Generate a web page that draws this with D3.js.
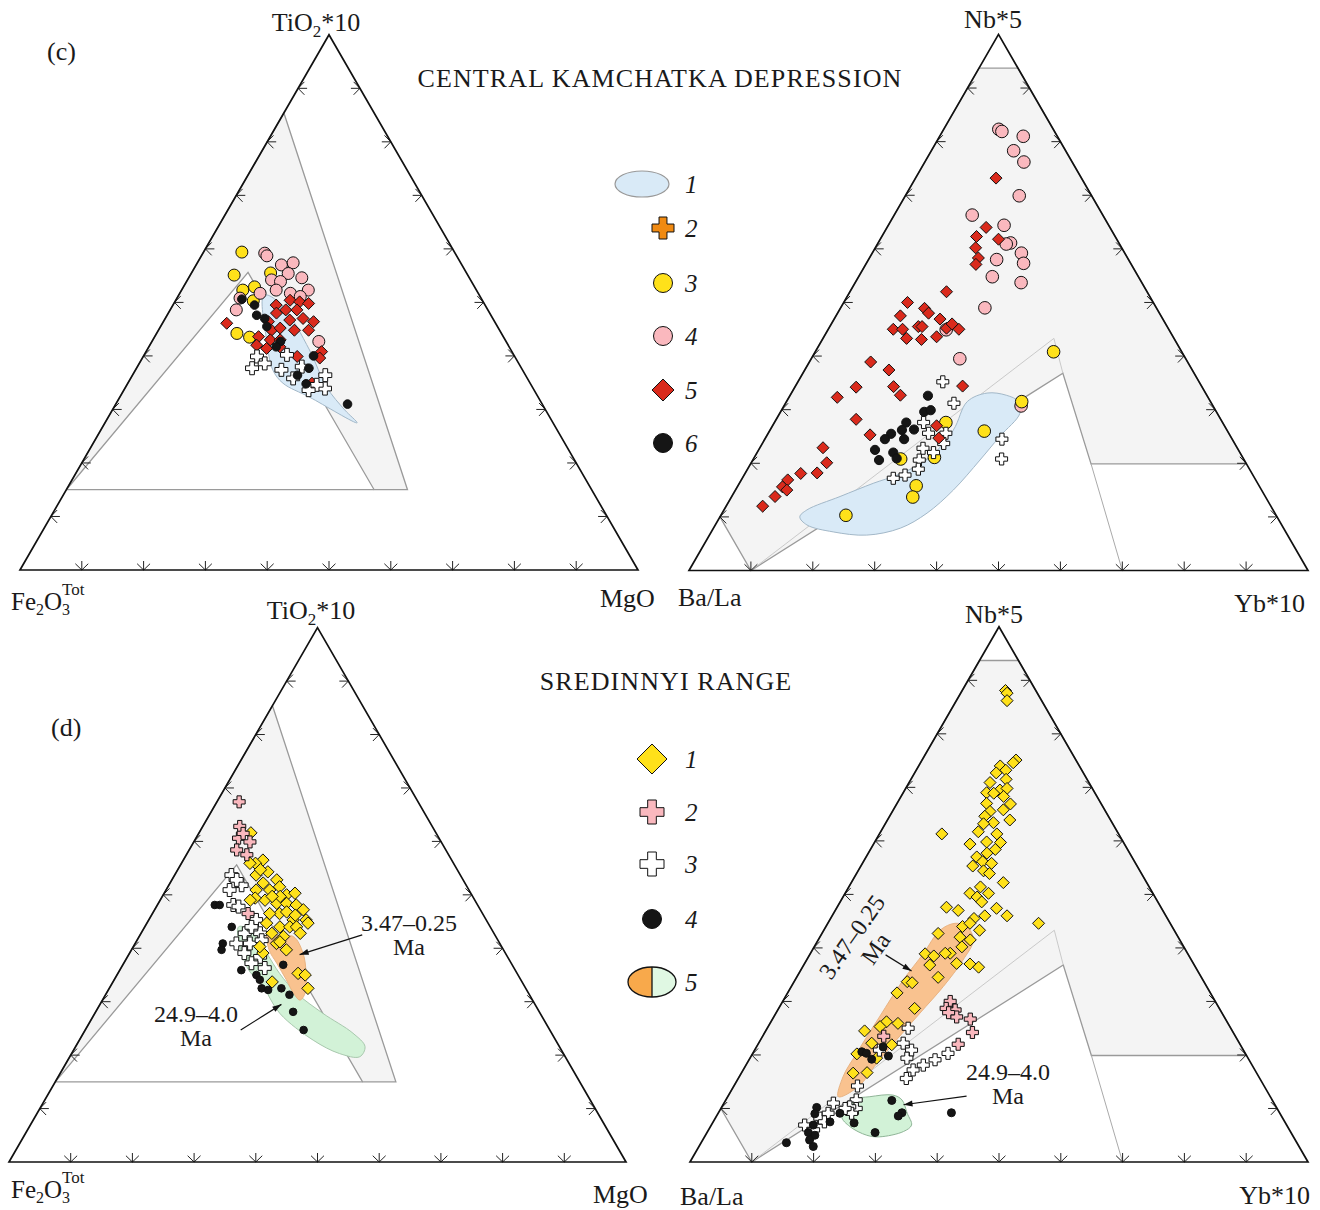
<!DOCTYPE html>
<meta charset="utf-8">
<html>
<head>
<title>Ternary diagrams: Central Kamchatka Depression / Sredinnyi Range</title>
<style>
  body { margin: 0; background: #fff; }
  text { font-family: "Liberation Serif", "Times New Roman", serif; fill: #1a1a1a; }
  .edge { fill: none; stroke: #111; stroke-width: 1.7px; stroke-linejoin: miter; }
  .tick { fill: none; stroke: #222; stroke-width: 1px; }
  .field { fill: #f4f4f4; stroke: #9a9a9a; stroke-width: 1.3px; }
  .mk { stroke: #111; stroke-width: 1px; }
  .lab { font-size: 26px; }
  .leg { font-size: 25px; font-style: italic; }
  .ann { font-size: 24px; }
</style>
<script src="https://cdn.jsdelivr.net/npm/d3@7"></script>
</head>
<body>
<script>

// ---- data: every point is [top %, right %], left = 100 - top - right ----

// background fields (same for both rows)
var fieldFMT = [[15, 0], [85.4, 0], [15, 55.2], [15, 49.8], [55.6, 9.1]];
var fieldFMTbase = [[15, 0], [15, 49.8]];
var fieldBNY = [[93.7, 0], [93.7, 6.3], [19.9, 80.1], [19.9, 55], [36.8, 42], [0, 10], [10, 0]];
var fieldBNYline = [[19.9, 55], [0, 70]];
var fieldBNYthin = [[0, 10], [43.3, 37.3], [36.8, 42]];

// (c) TiO2*10 - Fe2O3 - MgO, Central Kamchatka Depression
var c_field1 = [[51.0,13.8],[43.0,18.4],[37.4,22.2],[34.9,25.1],[32.3,30.7],[27.5,40.8],[29.9,37.6],[34.2,32.5],[41.1,26.3],[49.2,18.0],[51.4,14.2]];
var c_s3 = [[59.4,6.2],[55.1,7.1],[52.3,9.9],[52.9,11.5],[50.3,12.6],[55.5,12.8],[44.2,13.0],[43.5,15.4]];
var c_s4 = [[59.2,10.0],[58.7,10.6],[57.0,13.8],[57.4,15.5],[55.4,15.7],[54.2,13.6],[53.9,15.2],[54.6,18.3],[52.3,20.5],[51.7,17.9],[51.7,13.0],[50.8,10.2],[48.6,10.7],[42.7,27.0],[52.3,15.3],[51.1,19.8]];
var c_s5 = [[46.1,10.4],[49.5,16.7],[50.4,18.5],[50.1,20.2],[49.8,21.8],[48.6,18.7],[48.6,20.5],[48.0,17.5],[46.7,20.3],[47.0,22.3],[46.4,24.3],[46.4,17.0],[44.8,18.3],[45.2,19.5],[44.8,22.0],[44.8,24.3],[43.6,16.8],[43.0,19.0],[42.0,17.3],[41.4,19.2],[41.7,21.2],[39.9,24.9],[40.8,28.4],[39.6,28.7],[34.9,29.8],[43.0,20.6]];
var c_s6 = [[50.6,10.6],[49.5,13.2],[47.6,14.5],[47.0,16.1],[42.7,20.8],[41.7,20.6],[40.0,27.5],[37.7,27.9],[36.4,26.7],[34.8,28.9],[31.0,37.5],[45.5,17.2]];
var c_cross = [[39.9,18.4],[37.7,18.7],[38.6,20.3],[37.4,23.6],[40.2,23.1],[35.8,26.3],[36.4,31.2],[33.9,32.4],[34.6,30.7],[33.6,29.9],[38.0,26.6]];

// (c, right) Nb*5 - Ba/La - Yb*10
var e_field1 = [[10.0,12.9],[11.3,13.4],[13.8,17.5],[16.3,21.7],[17.8,24.7],[20.6,28.1],[26.2,29.6],[31.5,29.2],[33.1,31.6],[32.7,34.9],[31.5,37.5],[29.3,38.8],[25.0,37.7],[20.6,36.7],[15.0,35.2],[10.7,33.1],[7.9,30.2],[6.6,25.4],[7.2,19.7],[8.5,14.8]];
var e_s3 = [[40.8,38.5],[31.5,38.0],[27.6,27.7],[26.0,34.7],[20.8,23.8],[21.1,29.1],[15.8,28.8],[13.7,29.3],[10.3,20.2]];
var e_s4 = [[82.3,8.9],[81.9,9.6],[81.0,13.5],[78.3,13.3],[76.2,16.0],[69.9,18.4],[66.3,12.6],[64.4,18.7],[61.1,21.4],[60.9,20.8],[59.2,24.1],[57.3,25.4],[58.0,20.7],[54.8,21.6],[53.7,26.8],[49.0,23.3],[44.9,19.1],[39.5,24.0],[30.7,38.3]];
var e_s5 = [[73.2,13.0],[64.0,16.0],[62.3,15.3],[61.8,19.1],[60.2,16.2],[58.3,17.6],[57.1,17.8],[52.0,15.6],[50.0,10.3],[48.9,13.6],[48.0,14.7],[47.5,10.4],[46.9,17.1],[45.0,10.5],[45.0,12.0],[45.5,14.3],[45.5,14.9],[43.3,13.5],[43.1,16.0],[43.6,18.2],[45.2,19.0],[46.0,19.5],[45.0,21.1],[38.9,9.9],[37.4,13.6],[34.2,9.9],[32.3,7.8],[34.3,15.9],[32.7,17.8],[34.4,27.0],[28.2,12.9],[25.3,16.6],[27.0,26.5],[24.7,28.0],[22.9,10.2],[20.1,12.2],[18.1,9.0],[18.2,11.6],[16.9,7.5],[15.6,7.3],[15.0,8.3],[13.8,7.0],[12.0,5.9]];
var e_s6 = [[32.6,22.3],[29.6,23.2],[29.9,24.1],[27.6,21.3],[26.2,21.3],[26.3,23.2],[25.5,19.9],[24.5,19.4],[24.5,22.5],[22.5,18.8],[22.0,22.0],[20.6,20.4],[20.9,23.1]];
var e_cross = [[35.2,23.4],[31.2,27.2],[27.6,24.1],[25.6,25.9],[25.6,28.7],[22.8,26.4],[22.0,28.5],[20.6,26.9],[18.9,27.6],[17.8,26.0],[17.2,24.4],[24.5,38.3],[20.8,40.1],[23.7,29.3]];

// (d) TiO2*10 - Fe2O3 - MgO, Sredinnyi Range
var d_young = [[43.1,20.3],[42.2,22.8],[42.2,25.0],[39.1,28.1],[35.3,30.5],[31.6,32.2],[30.3,32.0],[31.6,30.3],[34.1,27.9],[37.2,24.8],[39.7,22.3]];
var d_old = [[44.0,15.2],[36.6,20.2],[32.8,24.8],[27.8,30.0],[22.8,37.9],[20.3,43.4],[19.7,47.0],[21.6,46.9],[24.1,43.7],[27.8,37.0],[31.6,30.8],[35.3,26.2],[39.1,22.2],[43.4,17.4]];
var d_s1 = [[61.6,8.4],[56.5,12.9],[55.9,12.0],[54.3,14.8],[53.7,13.2],[52.8,17.0],[52.2,15.1],[51.5,18.1],[50.9,16.8],[50.0,20.0],[50.3,21.2],[50.9,14.6],[49.0,17.0],[48.4,19.2],[48.4,20.8],[48.1,22.5],[47.2,24.1],[45.3,25.5],[44.7,26.1],[45.3,23.4],[46.5,20.6],[46.5,19.0],[44.7,19.4],[44.0,21.9],[44.0,23.5],[44.0,24.6],[42.8,25.8],[42.2,23.4],[40.9,22.9],[39.7,25.1],[42.8,21.2],[41.2,23.3],[35.3,29.2],[35.0,30.5],[32.5,32.2],[33.7,25.8],[39.1,21.6],[40.3,20.5],[49.4,15.2],[49.0,14.6],[46.8,21.6],[46.2,23.3],[49.7,19.1],[49.7,17.8],[54.7,13.4],[55.9,11.1]];
var d_s2 = [[67.4,3.6],[62.8,6.0],[60.6,6.9],[59.9,9.1],[58.4,7.7],[57.5,9.8],[61.5,7.2],[46.5,15.5]];
var d_s3 = [[53.7,9.2],[51.8,11.8],[50.9,10.3],[48.1,12.3],[47.8,13.3],[45.3,17.4],[42.8,16.8],[42.8,19.3],[40.9,16.4],[40.9,18.6],[41.5,20.2],[39.1,18.6],[38.4,21.5],[37.2,20.7],[36.3,23.3],[52.8,10.5],[44.0,17.3]];
var d_s4 = [[48.1,9.3],[48.1,10.1],[44.0,14.1],[40.9,14.2],[39.7,14.6],[35.9,19.7],[35.0,22.6],[34.1,23.6],[32.5,24.7],[32.2,25.9],[32.5,27.9],[31.3,29.8],[28.1,32.0],[24.7,35.4],[36.9,26.0]];

// (d, right) Nb*5 - Ba/La - Yb*10
var f_young = [[12.2,17.9],[15.9,16.8],[20.3,16.8],[27.1,17.1],[34.0,17.5],[39.0,18.3],[43.3,18.8],[44.6,20.6],[44.0,22.8],[41.5,25.1],[37.7,25.3],[32.8,24.6],[27.8,23.3],[22.8,22.0],[18.4,21.0],[14.1,20.2]];
var f_old = [[8.5,20.3],[11.6,20.6],[12.2,23.0],[12.5,26.6],[11.6,28.5],[9.1,30.6],[6.9,32.4],[5.7,31.7],[4.7,28.3],[5.0,26.1],[6.6,22.6]];
var f_s1 = [[88.1,7.0],[87.6,7.5],[86.2,8.2],[75.1,15.2],[74.6,15.0],[74.0,13.2],[73.2,14.5],[72.7,13.2],[70.9,13.1],[71.5,15.4],[69.5,15.4],[69.8,16.4],[69.0,13.5],[68.9,14.7],[68.3,16.6],[67.0,14.5],[66.9,18.4],[65.8,17.8],[65.5,15.8],[64.6,15.4],[63.9,19.8],[63.4,17.4],[63.2,15.9],[61.7,15.8],[61.3,19.0],[59.8,18.1],[59.7,20.4],[61.3,10.1],[59.4,15.6],[58.4,20.2],[57.7,19.2],[57.0,17.9],[56.1,19.3],[55.3,18.1],[55.8,20.9],[54.4,20.3],[53.9,21.5],[52.2,24.6],[51.4,21.3],[50.2,20.2],[50.2,23.2],[49.5,21.7],[48.6,22.9],[47.6,17.7],[47.0,19.9],[47.4,25.9],[46.0,28.3],[46.0,24.7],[45.5,23.2],[44.0,22.1],[44.6,23.0],[43.3,25.2],[44.6,34.1],[42.7,18.8],[42.0,22.7],[39.0,22.6],[41.5,24.6],[40.2,23.9],[38.9,18.6],[38.5,20.2],[39.0,21.8],[37.1,24.6],[37.0,26.8],[36.4,28.5],[36.8,20.4],[34.5,22.9],[33.7,18.3],[33.5,19.2],[31.6,17.7],[28.7,22.0],[26.2,18.7],[25.3,18.1],[24.5,16.0],[25.9,20.7],[22.2,18.3],[21.9,21.7],[20.2,16.9],[16.7,20.3],[16.6,18.1],[19.4,20.5]];
var f_s2 = [[30.0,27.1],[28.7,27.1],[28.4,28.7],[27.1,29.6],[27.9,27.9],[26.7,32.0],[24.2,33.6],[22.0,32.4],[23.5,19.6]];
var f_s3 = [[25.0,22.8],[22.2,23.4],[20.9,25.4],[19.4,25.4],[20.9,20.2],[20.3,31.6],[19.1,30.1],[18.1,28.7],[17.2,27.5],[15.6,27.2],[14.2,20.0],[11.6,21.1],[10.0,21.9],[10.3,20.7],[11.0,17.7],[9.1,17.8],[8.2,16.9],[6.9,15.1],[7.5,18.0],[6.0,17.0],[9.1,21.6],[10.0,20.1]];
var f_s4 = [[20.6,17.5],[20.3,18.4],[21.5,20.5],[19.2,19.8],[19.8,22.2],[11.5,26.9],[9.2,29.7],[8.6,29.4],[7.3,22.9],[5.5,27.2],[9.2,37.7],[10.2,15.4],[9.0,15.7],[9.1,19.7],[7.5,18.9],[6.9,16.5],[5.5,16.4],[5.0,17.7],[4.1,17.3],[2.9,18.5],[3.6,13.8]];

// annotation arrows [from, to]
var d_arrYoung = [[42.5, 36.0], [38.8, 27.7]];
var d_arrOld = [[24.7, 25.2], [29.5, 29.4]];
var f_arrYoung = [[38.7, 12.3], [35.7, 18.0]];
var f_arrOld = [[12.3, 38.6], [10.7, 29.2]];

var tickVals = [10, 20, 30, 40, 50, 60, 70, 80, 90];

// ---- layout ----
var width = 1320, height = 1210;
var panelC = {x0: 20, y0: 570, side: 618};
var panelE = {x0: 689, y0: 570.5, side: 619};
var panelD = {x0: 9, y0: 1162, side: 617};
var panelF = {x0: 690, y0: 1162, side: 618};

var col = {
  yellow: "#ffe11a", pink: "#fab8be", red: "#da2a1c", black: "#151515", white: "#ffffff",
  blue: "#d9eaf7", blueLine: "#a3b8c8", orange: "#f9c28f", green: "#d2f2d7",
  orangeLeg: "#f8a94b", greenLeg: "#e0f8e3", orangeCross: "#f08a12"
};

var svg = d3.select("body").append("svg")
    .attr("width", width)
    .attr("height", height);

// ternary projection built from two linear scales
function makeProj(p) {
  var h = p.side * Math.sqrt(3) / 2;
  var sx = d3.scaleLinear().domain([0, 100]).range([p.x0, p.x0 + p.side]);
  var sy = d3.scaleLinear().domain([0, 100]).range([p.y0, p.y0 - h]);
  return function(d) { return [sx(d[1] + d[0] / 2), sy(d[0])]; };
}

function diamondPath(a) { return "M0," + (-a) + "L" + a + ",0L0," + a + "L" + (-a) + ",0Z"; }
function crossPath(a, b) {
  return "M" + (-b) + "," + (-a) + "H" + b + "V" + (-b) + "H" + a + "V" + b + "H" + b + "V" + a +
         "H" + (-b) + "V" + b + "H" + (-a) + "V" + (-b) + "H" + (-b) + "Z";
}

function marks(g, proj, data, shape, fill, size) {
  var sel = g.append("g").selectAll("path").data(data).enter().append("path")
    .attr("class", "mk")
    .attr("fill", fill)
    .attr("transform", function(d) { var p = proj(d); return "translate(" + p[0] + "," + p[1] + ")"; });
  if (shape == "circle") sel.attr("d", d3.symbol().type(d3.symbolCircle).size(Math.PI * size * size));
  if (shape == "diamond") sel.attr("d", diamondPath(size));
  if (shape == "cross") sel.attr("d", crossPath(size, size * 0.36));
}

function blob(g, proj, data, fill, stroke) {
  g.append("path")
    .attr("d", d3.line().curve(d3.curveCatmullRomClosed.alpha(0.5))(data.map(proj)))
    .attr("fill", fill).attr("stroke", stroke).attr("stroke-width", 1);
}

function polyline(g, proj, data, stroke, w) {
  g.append("path").attr("d", d3.line()(data.map(proj)))
    .attr("fill", "none").attr("stroke", stroke).attr("stroke-width", w);
}

// small arrow tick: tip on the edge, pointing outwards
function arrowTick(path, pt, dir) {
  var L = 9, H = 9, ang = 0.8;
  var bx = -dir[0], by = -dir[1];
  path.moveTo(pt[0], pt[1]); path.lineTo(pt[0] + bx * L, pt[1] + by * L);
  [-1, 1].forEach(function(s) {
    var rx = bx * Math.cos(ang) - by * Math.sin(ang) * s;
    var ry = bx * Math.sin(ang) * s + by * Math.cos(ang);
    path.moveTo(pt[0], pt[1]); path.lineTo(pt[0] + rx * H, pt[1] + ry * H);
  });
}

function frame(g, proj) {
  var tp = d3.path();
  tickVals.forEach(function(v) {
    arrowTick(tp, proj([v, 0]), [-1, 0]);
    arrowTick(tp, proj([v, 100 - v]), [1, 0]);
    arrowTick(tp, proj([0, v]), [0, 1]);
  });
  g.append("path").attr("class", "tick").attr("d", tp.toString());
  g.append("path").attr("class", "edge")
    .attr("d", d3.line()([[100, 0], [0, 0], [0, 100]].map(proj)) + "Z");
}

function arrow(g, proj, ends) {
  var a = proj(ends[0]), b = proj(ends[1]);
  var ang = Math.atan2(b[1] - a[1], b[0] - a[0]);
  g.append("line").attr("x1", a[0]).attr("y1", a[1]).attr("x2", b[0]).attr("y2", b[1])
    .attr("stroke", "#111").attr("stroke-width", 1.2);
  var h = 9, w = 3;
  var p1 = [b[0] - h * Math.cos(ang) + w * Math.sin(ang), b[1] - h * Math.sin(ang) - w * Math.cos(ang)];
  var p2 = [b[0] - h * Math.cos(ang) - w * Math.sin(ang), b[1] - h * Math.sin(ang) + w * Math.cos(ang)];
  g.append("path").attr("d", "M" + b + "L" + p1 + "L" + p2 + "Z").attr("fill", "#111");
}

// ---------- (c) left ----------
var pc = makeProj(panelC);
var gc = svg.append("g");
gc.append("path").attr("class", "field").attr("d", d3.line()(fieldFMT.map(pc)) + "Z");
polyline(gc, pc, fieldFMTbase, "#9a9a9a", 1.3);
blob(gc, pc, c_field1, col.blue, col.blueLine);
marks(gc, pc, c_s3, "circle", col.yellow, 6);
marks(gc, pc, c_s4, "circle", col.pink, 6);
marks(gc, pc, c_s5, "diamond", col.red, 6);
marks(gc, pc, c_cross, "cross", col.white, 6.5);
marks(gc, pc, c_s6, "circle", col.black, 4.3);
frame(gc, pc);

// ---------- (c) right ----------
var pe = makeProj(panelE);
var ge = svg.append("g");
ge.append("path").attr("class", "field").attr("d", d3.line()(fieldBNY.map(pe)) + "Z");
polyline(ge, pe, fieldBNYline, "#aaaaaa", 1);
polyline(ge, pe, fieldBNYthin, "#c4c4c4", 0.9);
blob(ge, pe, e_field1, col.blue, col.blueLine);
marks(ge, pe, e_s4, "circle", col.pink, 6.3);
marks(ge, pe, e_s3, "circle", col.yellow, 6.3);
marks(ge, pe, e_s6, "circle", col.black, 4.6);
marks(ge, pe, e_cross, "cross", col.white, 6);
marks(ge, pe, e_s5, "diamond", col.red, 6);
frame(ge, pe);

// ---------- (d) left ----------
var pd = makeProj(panelD);
var gd = svg.append("g");
gd.append("path").attr("class", "field").attr("d", d3.line()(fieldFMT.map(pd)) + "Z");
polyline(gd, pd, fieldFMTbase, "#9a9a9a", 1.3);
blob(gd, pd, d_old, col.green, "#a8c8ad");
blob(gd, pd, d_young, col.orange, "#e8b382");
marks(gd, pd, d_s4, "circle", col.black, 3.8);
marks(gd, pd, d_s3, "cross", col.white, 6.5);
marks(gd, pd, d_s1, "diamond", col.yellow, 6.2);
marks(gd, pd, d_s2, "cross", col.pink, 6);
frame(gd, pd);
arrow(gd, pd, d_arrYoung);
arrow(gd, pd, d_arrOld);

// ---------- (d) right ----------
var pf = makeProj(panelF);
var gf = svg.append("g");
gf.append("path").attr("class", "field").attr("d", d3.line()(fieldBNY.map(pf)) + "Z");
polyline(gf, pf, fieldBNYline, "#aaaaaa", 1);
polyline(gf, pf, fieldBNYthin, "#c4c4c4", 0.9);
blob(gf, pf, f_old, col.green, "#8fb597");
blob(gf, pf, f_young, col.orange, "#e8b382");
marks(gf, pf, f_s1, "diamond", col.yellow, 6);
marks(gf, pf, f_s2, "cross", col.pink, 6);
marks(gf, pf, f_s3, "cross", col.white, 6);
marks(gf, pf, f_s4, "circle", col.black, 4);
frame(gf, pf);
arrow(gf, pf, f_arrYoung);
arrow(gf, pf, f_arrOld);

// ---------- text ----------
function tiLabel(x, y) {
  var t = svg.append("text").attr("class", "lab").attr("x", x).attr("y", y).attr("text-anchor", "middle");
  t.append("tspan").text("TiO");
  t.append("tspan").attr("dy", 6).attr("font-size", 17).text("2");
  t.append("tspan").attr("dy", -6).text("*10");
}
function feLabel(x, y) {
  var t = svg.append("text").attr("class", "lab").attr("x", x).attr("y", y).style("font-size", "25px");
  t.append("tspan").text("Fe");
  t.append("tspan").attr("dy", 5).attr("font-size", 16).text("2");
  t.append("tspan").attr("dy", -5).text("O");
  t.append("tspan").attr("dy", 5).attr("font-size", 16).text("3");
  t.append("tspan").attr("dx", -8).attr("dy", -20).attr("font-size", 17).text("Tot");
}
function plain(x, y, s, anchor, cls) {
  return svg.append("text").attr("class", cls || "lab").attr("x", x).attr("y", y)
    .attr("text-anchor", anchor || "start").text(s);
}
// two-line annotation as a single text block
function twoLine(x, y, a, b) {
  var t = svg.append("text").attr("class", "ann").attr("x", x).attr("y", y).attr("text-anchor", "middle");
  t.append("tspan").attr("x", x).text(a);
  t.append("tspan").attr("x", x).attr("dy", 24).text(b);
  return t;
}

tiLabel(316, 31);
feLabel(11, 610);
plain(600, 607, "MgO");
plain(993, 28, "Nb*5", "middle");
plain(678, 606, "Ba/La");
plain(1305, 612, "Yb*10", "end");

tiLabel(311, 619);
feLabel(11, 1198);
plain(593, 1203, "MgO");
plain(994, 623, "Nb*5", "middle");
plain(680, 1205, "Ba/La");
plain(1310, 1204, "Yb*10", "end");

plain(47, 60, "(c)");
plain(51, 736, "(d)");
plain(660, 87, "CENTRAL KAMCHATKA DEPRESSION", "middle").style("font-size", "26px").attr("letter-spacing", "1.1px");
plain(666, 690, "SREDINNYI RANGE", "middle").style("font-size", "26px").attr("letter-spacing", "1.1px");

// annotations
twoLine(409, 931, "3.47\u20130.25", "Ma");
twoLine(196, 1022, "24.9\u20134.0", "Ma");
twoLine(1008, 1080, "24.9\u20134.0", "Ma");
var rot = svg.append("text").attr("class", "ann").attr("text-anchor", "middle")
  .attr("transform", "translate(852,937) rotate(-55)");
rot.append("tspan").attr("x", 0).attr("y", 8).text("3.47\u20130.25");
rot.append("tspan").attr("x", 4).attr("dy", 26).text("Ma");

// ---------- legends ----------
var legTop = [
  {label: "1", shape: "ellipse", y: 184},
  {label: "2", shape: "cross", fill: col.orangeCross, y: 228},
  {label: "3", shape: "circle", fill: col.yellow, y: 283},
  {label: "4", shape: "circle", fill: col.pink, y: 336},
  {label: "5", shape: "diamond", fill: col.red, y: 390},
  {label: "6", shape: "circle", fill: col.black, y: 443}
];
var legBot = [
  {label: "1", shape: "diamond", fill: col.yellow, y: 759},
  {label: "2", shape: "cross", fill: col.pink, y: 812},
  {label: "3", shape: "cross", fill: col.white, y: 864},
  {label: "4", shape: "circle", fill: col.black, y: 919},
  {label: "5", shape: "split", y: 982}
];

function legendItem(it, sx) {
  var g = svg.append("g").attr("transform", "translate(" + sx + "," + it.y + ")");
  if (it.shape == "ellipse") {
    g.append("ellipse").attr("cx", -21).attr("rx", 27).attr("ry", 13)
      .attr("fill", col.blue).attr("stroke", "#999").attr("stroke-width", 1.2);
  } else if (it.shape == "circle") {
    g.append("circle").attr("r", 9.5).attr("fill", it.fill).attr("class", "mk").attr("stroke-width", 1.3);
  } else if (it.shape == "diamond") {
    g.append("path").attr("d", diamondPath(sx < 655 ? 15 : 11)).attr("fill", it.fill)
      .attr("class", "mk").attr("stroke-width", 1.4);
  } else if (it.shape == "cross") {
    var a = it.fill == col.orangeCross ? 11 : 12;
    g.append("path").attr("d", crossPath(a, a * 0.36)).attr("fill", it.fill)
      .attr("class", "mk").attr("stroke-width", 1.2);
  } else if (it.shape == "split") {
    g.append("path").attr("d", d3.arc()({innerRadius: 0, outerRadius: 1, startAngle: Math.PI, endAngle: 2 * Math.PI}))
      .attr("transform", "scale(24,15)").attr("fill", col.orangeLeg);
    g.append("path").attr("d", d3.arc()({innerRadius: 0, outerRadius: 1, startAngle: 0, endAngle: Math.PI}))
      .attr("transform", "scale(24,15)").attr("fill", col.greenLeg);
    g.append("ellipse").attr("rx", 24).attr("ry", 15).attr("fill", "none").attr("stroke", "#111").attr("stroke-width", 1.3);
    g.append("line").attr("y1", -15).attr("y2", 15).attr("stroke", "#111").attr("stroke-width", 1.3);
  }
  svg.append("text").attr("class", "leg").attr("x", 685).attr("y", it.y + 9).text(it.label);
}
legTop.forEach(function(it) { legendItem(it, 663); });
legBot.forEach(function(it) { legendItem(it, 652); });

</script>
</body>
</html>
